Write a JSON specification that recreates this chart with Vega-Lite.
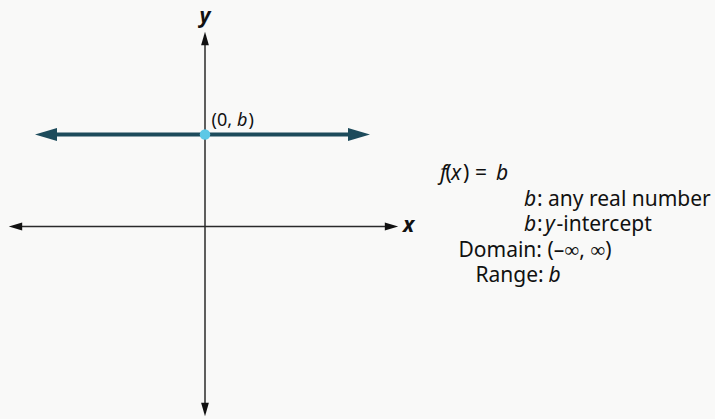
{
  "$schema": "https://vega.github.io/schema/vega-lite/v6.json",
  "width": 715,
  "height": 419,
  "autosize": {"type": "fit", "contains": "padding"},
  "padding": 0,
  "background": "#f9f9f8",
  "config": {"view": {"stroke": null}},
  "datasets": {
    "axes": [
      {"x": -19.0, "y": 0, "x2": 18.6, "y2": 0},
      {"x": 0, "y": 18.5, "x2": 0, "y2": -18.0}
    ],
    "axisHeads": [
      {"x": 18.65, "y": 0, "dir": "right"},
      {"x": -18.95, "y": 0, "dir": "left"},
      {"x": 0, "y": 18.8, "dir": "up"},
      {"x": 0, "y": -18.3, "dir": "down"}
    ],
    "fline": [{"x": -15.0, "y": 9.2, "x2": 14.5, "y2": 9.2}],
    "fheads": [
      {"x": -15.9, "y": 9.2, "dir": "left"},
      {"x": 15.4, "y": 9.2, "dir": "right"}
    ],
    "intercept": [{"x": 0, "y": 9.2}],
    "axisNames": [
      {"text": "y", "x": 0, "y": 20.35},
      {"text": "x", "x": 20.35, "y": -0.55}
    ],
    "pointLabelNormal": [
      {"text": "(0,", "x": 0.65, "y": 10.05},
      {"text": ")", "x": 4.35, "y": 10.05}
    ],
    "pointLabelItalic": [
      {"text": "b", "x": 3.2, "y": 10.05}
    ],
    "notesNormal": [
      {"text": "(", "x": 24.05, "y": 4.65},
      {"text": ")", "x": 25.8, "y": 4.65},
      {"text": "=", "x": 27.0, "y": 4.65},
      {"text": ": any real number", "x": 33.2, "y": 2.1},
      {"text": ":", "x": 33.2, "y": -0.45},
      {"text": "-intercept", "x": 35.15, "y": -0.45},
      {"text": "Domain: (–∞, ∞)", "x": 25.35, "y": -3.0},
      {"text": "Range:", "x": 27.05, "y": -5.55}
    ],
    "notesItalic": [
      {"text": "f", "x": 23.5, "y": 4.65},
      {"text": "x", "x": 24.6, "y": 4.65},
      {"text": "b", "x": 29.1, "y": 4.65},
      {"text": "b", "x": 31.9, "y": 2.1},
      {"text": "b", "x": 31.9, "y": -0.45},
      {"text": "y", "x": 34.0, "y": -0.45},
      {"text": "b", "x": 34.35, "y": -5.55}
    ]
  },
  "layer": [
    {
      "data": {"name": "axes"},
      "mark": {"type": "rule", "color": "#2a2a2a", "strokeWidth": 1.5},
      "encoding": {
        "x": {"field": "x", "type": "quantitative", "scale": {"domain": [-20.5, 51], "nice": false, "zero": false}, "axis": null},
        "y": {"field": "y", "type": "quantitative", "scale": {"domain": [-19.25, 22.65], "nice": false, "zero": false}, "axis": null},
        "x2": {"field": "x2"},
        "y2": {"field": "y2"}
      }
    },
    {
      "data": {"name": "axisHeads"},
      "mark": {"type": "point", "filled": true, "color": "#111111", "opacity": 1, "size": 180},
      "encoding": {
        "x": {"field": "x", "type": "quantitative"},
        "y": {"field": "y", "type": "quantitative"},
        "shape": {
          "field": "dir", "type": "nominal", "legend": null,
          "scale": {
            "domain": ["right", "left", "up", "down"],
            "range": ["M1,0L-1,-0.58L-1,0.58Z", "M-1,0L1,-0.58L1,0.58Z", "M0,-1L-0.58,1L0.58,1Z", "M0,1L-0.58,-1L0.58,-1Z"]
          }
        }
      }
    },
    {
      "data": {"name": "fline"},
      "mark": {"type": "rule", "color": "#1d4b5b", "strokeWidth": 4},
      "encoding": {
        "x": {"field": "x", "type": "quantitative"},
        "y": {"field": "y", "type": "quantitative"},
        "x2": {"field": "x2"},
        "y2": {"field": "y2"}
      }
    },
    {
      "data": {"name": "fheads"},
      "mark": {"type": "point", "filled": true, "color": "#1d4b5b", "opacity": 1, "size": 484},
      "encoding": {
        "x": {"field": "x", "type": "quantitative"},
        "y": {"field": "y", "type": "quantitative"},
        "shape": {
          "field": "dir", "type": "nominal", "legend": null,
          "scale": {
            "domain": ["right", "left"],
            "range": ["M1,0L-1,-0.45L-1,0.45Z", "M-1,0L1,-0.45L1,0.45Z"]
          }
        }
      }
    },
    {
      "data": {"name": "intercept"},
      "mark": {"type": "point", "shape": "circle", "filled": true, "color": "#5cc8e6", "opacity": 1, "size": 110},
      "encoding": {
        "x": {"field": "x", "type": "quantitative"},
        "y": {"field": "y", "type": "quantitative"}
      }
    },
    {
      "data": {"name": "axisNames"},
      "mark": {"type": "text", "font": "Noto Sans", "fontSize": 21, "fontStyle": "italic", "fontWeight": "bold", "align": "center", "baseline": "alphabetic", "color": "#111111"},
      "encoding": {
        "x": {"field": "x", "type": "quantitative"},
        "y": {"field": "y", "type": "quantitative"},
        "text": {"field": "text"}
      }
    },
    {
      "data": {"name": "pointLabelNormal"},
      "mark": {"type": "text", "font": "Noto Sans", "fontSize": 18, "align": "left", "baseline": "alphabetic", "color": "#111111"},
      "encoding": {
        "x": {"field": "x", "type": "quantitative"},
        "y": {"field": "y", "type": "quantitative"},
        "text": {"field": "text"}
      }
    },
    {
      "data": {"name": "pointLabelItalic"},
      "mark": {"type": "text", "font": "Noto Sans", "fontSize": 18, "fontStyle": "italic", "align": "left", "baseline": "alphabetic", "color": "#111111"},
      "encoding": {
        "x": {"field": "x", "type": "quantitative"},
        "y": {"field": "y", "type": "quantitative"},
        "text": {"field": "text"}
      }
    },
    {
      "data": {"name": "notesNormal"},
      "mark": {"type": "text", "font": "Noto Sans", "fontSize": 21, "align": "left", "baseline": "alphabetic", "color": "#111111"},
      "encoding": {
        "x": {"field": "x", "type": "quantitative"},
        "y": {"field": "y", "type": "quantitative"},
        "text": {"field": "text"}
      }
    },
    {
      "data": {"name": "notesItalic"},
      "mark": {"type": "text", "font": "Noto Sans", "fontSize": 21, "fontStyle": "italic", "align": "left", "baseline": "alphabetic", "color": "#111111"},
      "encoding": {
        "x": {"field": "x", "type": "quantitative"},
        "y": {"field": "y", "type": "quantitative"},
        "text": {"field": "text"}
      }
    }
  ]
}
